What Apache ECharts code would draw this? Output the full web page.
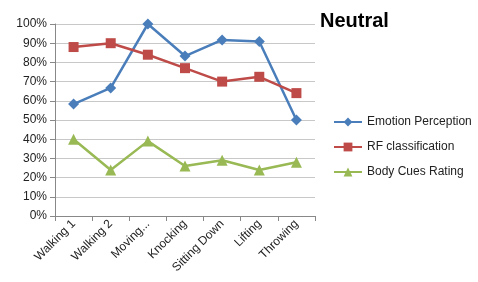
<!DOCTYPE html>
<html><head><meta charset="utf-8">
<script src="https://cdn.jsdelivr.net/npm/echarts@6/dist/echarts.min.js"></script>
<style>html,body{margin:0;padding:0;background:#fff}#c{width:478px;height:282px}</style>
</head><body><div id="c"></div>
<script>
const categories = ["Walking 1","Walking 2","Moving...","Knocking","Sitting Down","Lifting","Throwing"];
const emotionPerception = [58.3, 66.7, 100, 83.3, 91.7, 90.9, 50];
const rfClassification = [88, 90, 84, 77, 70, 72.5, 64];
const bodyCuesRating = [40, 24, 39, 26, 29, 24, 28];
const yTicks = [0,10,20,30,40,50,60,70,80,90,100];

const font = '"Liberation Sans", "DejaVu Sans", sans-serif';
const chart = echarts.init(document.getElementById('c'));
chart.setOption({
  animation: false,
  title: {text: 'Neutral', left: 315, top: 6, textStyle: {fontFamily: font, fontSize: 20, fontWeight: 'bold', color: '#000'}},
  legend: {
    orient: 'vertical', left: 333, top: 116, itemGap: 13, itemWidth: 28, itemHeight: 11, padding: 0,
    textStyle: {fontFamily: font, fontSize: 12, color: '#222'},
    data: ['Emotion Perception','RF classification','Body Cues Rating']
  },
  grid: {left: 55, right: 163, top: 24, bottom: 66},
  xAxis: {
    type: 'category', data: categories, boundaryGap: true,
    axisLine: {lineStyle: {color: '#888'}},
    axisTick: {show: true, alignWithLabel: false, lineStyle: {color: '#888'}},
    axisLabel: {rotate: 45, fontFamily: font, fontSize: 12, color: '#222', interval: 0, margin: 6}
  },
  yAxis: {
    type: 'value', min: 0, max: 100, interval: 10,
    axisLine: {show: true, lineStyle: {color: '#888'}},
    axisTick: {show: true, lineStyle: {color: '#888'}},
    splitLine: {lineStyle: {color: '#c8c8c8'}},
    axisLabel: {fontFamily: font, fontSize: 12, color: '#222', formatter: v => v + '%'}
  },
  series: [
    {name: 'Emotion Perception', type: 'line', data: emotionPerception, symbol: 'diamond', symbolSize: 11,
     lineStyle: {width: 2.5, color: '#4a7ebb'}, itemStyle: {color: '#4a7ebb'}},
    {name: 'RF classification', type: 'line', data: rfClassification, symbol: 'rect', symbolSize: 10,
     lineStyle: {width: 2.5, color: '#be4b48'}, itemStyle: {color: '#be4b48'}},
    {name: 'Body Cues Rating', type: 'line', data: bodyCuesRating, symbol: 'triangle', symbolSize: 11,
     lineStyle: {width: 2.5, color: '#98b954'}, itemStyle: {color: '#98b954'}}
  ]
});
</script></body></html>
